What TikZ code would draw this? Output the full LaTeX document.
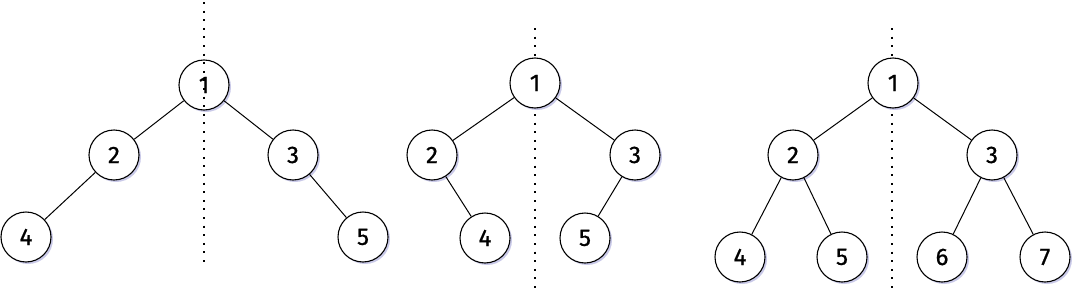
\documentclass[tikz,border=0pt]{standalone}
\usepackage{fontspec}
\setmainfont{Fira Sans}
\newfontfamily\nodefont{Fira Sans}[FakeBold=0.8]
\usetikzlibrary{shadows}
\tikzset{
  treenode/.style={circle, draw, fill=white, line width=1.1pt, minimum size=50pt, inner sep=0pt,
    font=\nodefont\fontsize{24}{26}\selectfont,
    drop shadow={opacity=0.3, shadow xshift=2pt, shadow yshift=-2pt, fill=blue!40!gray}},
  axis/.style={line width=2pt, dash pattern=on 2pt off 6.6pt},
  edge/.style={line width=1pt}
}
\begin{document}
\begin{tikzpicture}[x=1pt, y=-1pt]
  \useasboundingbox (0,0) rectangle (1082,300);
  % mirror axes (second and third lie behind the nodes)
  \draw[axis] (535,28) -- (535,290);
  \draw[axis] (892,28) -- (892,290);
  % first tree
  \node[treenode] (a1) at (204,85) {1};
  \node[treenode] (a2) at (114,155) {2};
  \node[treenode] (a3) at (293,155) {3};
  \node[treenode] (a4) at (26,237) {4};
  \node[treenode] (a5) at (363,237) {5};
  \draw[edge] (a1) -- (a2);
  \draw[edge] (a1) -- (a3);
  \draw[edge] (a2) -- (a4);
  \draw[edge] (a3) -- (a5);
  \draw[axis] (204,2) -- (204,262);
  % second tree
  \node[treenode] (b1) at (535,83) {1};
  \node[treenode] (b2) at (432,155) {2};
  \node[treenode] (b3) at (635,155) {3};
  \node[treenode] (b4) at (485,238) {4};
  \node[treenode] (b5) at (585,238) {5};
  \draw[edge] (b1) -- (b2);
  \draw[edge] (b1) -- (b3);
  \draw[edge] (b2) -- (b4);
  \draw[edge] (b3) -- (b5);
  % third tree
  \node[treenode] (c1) at (893,83) {1};
  \node[treenode] (c2) at (793,155) {2};
  \node[treenode] (c3) at (992,155) {3};
  \node[treenode] (c4) at (740,257) {4};
  \node[treenode] (c5) at (842,257) {5};
  \node[treenode] (c6) at (942,257) {6};
  \node[treenode] (c7) at (1045,257) {7};
  \draw[edge] (c1) -- (c2);
  \draw[edge] (c1) -- (c3);
  \draw[edge] (c2) -- (c4);
  \draw[edge] (c2) -- (c5);
  \draw[edge] (c3) -- (c6);
  \draw[edge] (c3) -- (c7);
\end{tikzpicture}
\end{document}
